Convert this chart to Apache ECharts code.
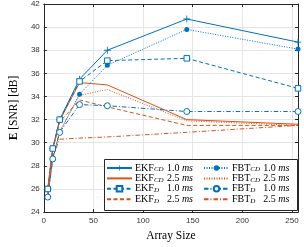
<!DOCTYPE html>
<html>
<head>
<meta charset="utf-8">
<script src="https://cdn.jsdelivr.net/npm/echarts@6/dist/echarts.min.js"></script>
<style>html,body{margin:0;padding:0;background:#fff}#c{width:304px;height:247px}</style>
</head>
<body>
<div id="c"></div>
<script>
var arraySizes = [4, 9, 16, 36, 64, 144, 256];
var xTicks = [0, 50, 100, 150, 200, 250];
var yTicks = [24, 26, 28, 30, 32, 34, 36, 38, 40, 42];
var ekfCD10 = [26.0, 29.5, 32.0, 35.5, 38.0, 40.7, 38.7];
var ekfCD25 = [26.0, 29.4, 31.9, 35.2, 35.0, 32.0, 31.6];
var ekfD10  = [26.0, 29.5, 32.0, 35.3, 37.1, 37.3, 34.7];
var ekfD25  = [26.0, 29.4, 31.8, 33.7, 33.1, 31.5, 31.5];
var fbtCD10 = [25.3, 28.6, 30.9, 34.2, 36.7, 39.8, 38.1];
var fbtCD25 = [25.4, 28.6, 31.0, 34.1, 34.6, 31.9, 31.5];
var fbtD10  = [25.3, 28.6, 30.9, 33.3, 33.2, 32.7, 32.7];
var fbtD25  = [25.5, 28.8, 30.3, 30.4, 30.5, 30.9, 31.5];

var BLUE = '#0072BD', ORANGE = '#D95319';
function pts(v){ return arraySizes.map(function(x,i){ return [x, v[i]]; }); }
var PLUS = 'path://M4.4,0H5.6V4.4H10V5.6H5.6V10H4.4V5.6H0V4.4H4.4Z';

function mk(name, vals, color, type, symbol, size, empty){
  var noSym = symbol === 'none';
  return {
    name: name, type: 'line', data: pts(vals),
    xAxisIndex: 0, yAxisIndex: 0,
    lineStyle: {color: color, width: 1, type: type},
    itemStyle: {color: empty ? '#fff' : color, borderColor: color, borderWidth: empty ? 1 : 0, opacity: noSym ? 0 : 1},
    symbol: noSym ? 'none' : symbol, symbolSize: noSym ? 0 : size, showSymbol: !noSym,
    emphasis: {disabled: true},
    animation: false, z: 2
  };
}
var DASH = [4, 2.5], DOT = [1, 1.5], DASHDOT = [4.5, 2, 1, 2];
var series = [
  mk('EKF_CD 1.0', ekfCD10, BLUE, 'solid', PLUS, 7, false),
  mk('EKF_CD 2.5', ekfCD25, ORANGE, 'solid', 'none', 0, false),
  mk('EKF_D 1.0', ekfD10, BLUE, DASH, 'rect', 5.5, true),
  mk('EKF_D 2.5', ekfD25, ORANGE, DASH, 'none', 0, false),
  mk('FBT_CD 1.0', fbtCD10, BLUE, DOT, 'circle', 5, false),
  mk('FBT_CD 2.5', fbtCD25, ORANGE, DOT, 'none', 0, false),
  mk('FBT_D 1.0', fbtD10, BLUE, DASHDOT, 'circle', 6, true),
  mk('FBT_D 2.5', fbtD25, ORANGE, DASHDOT, 'none', 0, false)
];

var SERIF = '"Liberation Serif", "DejaVu Serif", serif';
var rich = {
  n: {fontFamily: SERIF, fontSize: 10, lineHeight: 10, color: '#000'},
  s: {fontFamily: SERIF, fontSize: 7, lineHeight: 7, fontStyle: 'italic', color: '#000', width: 13, verticalAlign: 'bottom'},
  v: {fontFamily: SERIF, fontSize: 10, lineHeight: 10, color: '#000'},
  i: {fontFamily: SERIF, fontSize: 10, lineHeight: 10, fontStyle: 'italic', color: '#000'}
};
function fmt(name){
  var parts = name.split(' ');
  var a = parts[0].split('_');
  return '{n|' + a[0] + '}{s|' + a[1] + '}{v|' + parts[1] + ' }{i|ms}';
}
function legend(names, left){
  return {
    show: true, orient: 'vertical', left: left, top: 163,
    itemWidth: 25, itemHeight: 7, itemGap: 0.4, padding: 0,
    data: names, formatter: fmt,
    textStyle: {rich: rich, padding: [0, 0, 0, -2]},
    z: 6, selectedMode: false
  };
}

var axisColor = '#262626';
var chart = echarts.init(document.getElementById('c'), null, {renderer: 'canvas'});
chart.setOption({
  animation: false,
  backgroundColor: '#fff',
  grid: {left: 30, right: 6, top: 4, bottom: 29, show: false},
  xAxis: [{
    type: 'value', min: 0, max: 256, interval: 50, position: 'bottom',
    name: 'Array Size', nameLocation: 'middle', nameGap: 15,
    nameTextStyle: {fontFamily: SERIF, fontSize: 11.5, color: '#000'},
    axisLine: {show: true, onZero: false, lineStyle: {color: axisColor, width: 1}},
    axisTick: {show: true, inside: true, length: 3, lineStyle: {color: axisColor}},
    axisLabel: {fontFamily: 'Liberation Sans, Arial, sans-serif', fontSize: 8, color: '#333', margin: 5,
      formatter: function(v){ return xTicks.indexOf(v) >= 0 ? String(v) : ''; }},
    splitLine: {show: true, lineStyle: {color: '#e5e5e5', width: 1}}
  }, {
    type: 'value', min: 0, max: 256, interval: 50, position: 'top',
    axisLine: {show: true, onZero: false, lineStyle: {color: axisColor, width: 1}},
    axisTick: {show: true, inside: true, length: 3, lineStyle: {color: axisColor}},
    axisLabel: {show: false}, splitLine: {show: false}
  }],
  yAxis: [{
    type: 'value', min: 24, max: 42, interval: 2, position: 'left',
    name: '{b|E} [SNR] [dB]', nameLocation: 'middle', nameGap: 17,
    nameTextStyle: {fontFamily: SERIF, fontSize: 11.5, color: '#000',
      rich: {b: {fontFamily: SERIF, fontSize: 11.5, fontWeight: 'bold', color: '#000'}}},
    axisLine: {show: true, onZero: false, lineStyle: {color: axisColor, width: 1}},
    axisTick: {show: true, inside: true, length: 3, lineStyle: {color: axisColor}},
    axisLabel: {fontFamily: 'Liberation Sans, Arial, sans-serif', fontSize: 8, color: '#333', margin: 4,
      formatter: function(v){ return yTicks.indexOf(v) >= 0 ? String(v) : ''; }},
    splitLine: {show: true, lineStyle: {color: '#e5e5e5', width: 1}}
  }, {
    type: 'value', min: 24, max: 42, interval: 2, position: 'right',
    axisLine: {show: true, onZero: false, lineStyle: {color: axisColor, width: 1}},
    axisTick: {show: true, inside: true, length: 3, lineStyle: {color: axisColor}},
    axisLabel: {show: false}, splitLine: {show: false}
  }],
  legend: [
    legend(['EKF_CD 1.0', 'EKF_CD 2.5', 'EKF_D 1.0', 'EKF_D 2.5'], 106),
    legend(['FBT_CD 1.0', 'FBT_CD 2.5', 'FBT_D 1.0', 'FBT_D 2.5'], 203)
  ],
  graphic: [{
    type: 'rect', z: 5, silent: true,
    shape: {x: 104.5, y: 159.5, width: 193, height: 51},
    style: {fill: '#fff', stroke: '#262626', lineWidth: 1}
  }],
  series: series
});
</script>
</body>
</html>
